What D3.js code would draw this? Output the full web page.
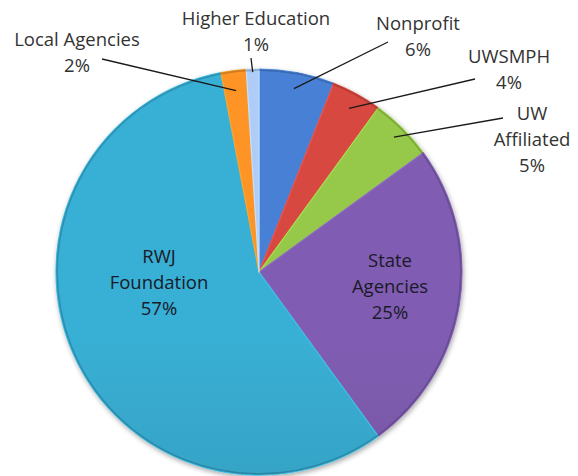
<!DOCTYPE html>
<html>
<head>
<meta charset="utf-8">
<script src="https://cdn.jsdelivr.net/npm/d3@7"></script>
<style>
  body { margin: 0; background: #fff; }
  svg { display: block; }
  text { font-family: "Open Sans", sans-serif; font-size: 18.5px; }
</style>
</head>
<body>
<svg width="578" height="476"></svg>
<script>
// slice data, clockwise from 12 o'clock
const categories = ['Nonprofit', 'UWSMPH', 'UW Affiliated', 'State Agencies', 'RWJ Foundation', 'Local Agencies', 'Higher Education'];
const values = [6, 4, 5, 25, 57, 2, 1];
const labelLines = [['Nonprofit', '6%'], ['UWSMPH', '4%'], ['UW', 'Affiliated', '5%'], ['State', 'Agencies', '25%'], ['RWJ', 'Foundation', '57%'], ['Local Agencies', '2%'], ['Higher Education', '1%']];
const colors = ['#4177c6', '#c8433c', '#8cbb45', '#7757a6', '#35a3c5', '#ef8a22', '#a3bde6'];

const cx = 259, cy = 272, r = 203;
// label layout: x, first baseline, leader start (label side), leader end radius factor
const layout = [
  { x: 418, y: 30, lx: 388, ly: 42, k: 0.92 },
  { x: 509, y: 63, lx: 475, ly: 79, k: 0.92 },
  { x: 532, y: 120, lx: 503, ly: 118, k: 0.94 },
  { x: 390, y: 267 },
  { x: 159, y: 263 },
  { x: 77, y: 46, lx: 102, ly: 59, k: 0.9 },
  { x: 256, y: 25, lx: 251, ly: 58, k: 0.985 }
];

const svg = d3.select('svg');
const defs = svg.append('defs');

const shadow = defs.append('filter').attr('id', 'shadow')
  .attr('x', '-10%').attr('y', '-10%').attr('width', '120%').attr('height', '120%');
shadow.append('feDropShadow')
  .attr('dx', 1).attr('dy', 2).attr('stdDeviation', 2.5)
  .attr('flood-color', '#000').attr('flood-opacity', 0.35);

colors.forEach((c, i) => {
  const g = defs.append('linearGradient').attr('id', 'grad' + i)
    .attr('gradientUnits', 'userSpaceOnUse')
    .attr('x1', 0).attr('y1', cy - r).attr('x2', 0).attr('y2', cy + r);
  g.append('stop').attr('offset', '0%').attr('stop-color', d3.color(c).brighter(0.2));
  g.append('stop').attr('offset', '100%').attr('stop-color', d3.color(c).darker(0.4));
});

const pie = d3.pie().sort(null).value(d => d)(values);
const arc = d3.arc().innerRadius(0).outerRadius(r);

const chart = svg.append('g').attr('transform', `translate(${cx}, ${cy})`);

chart.append('g').attr('filter', 'url(#shadow)')
  .selectAll('path')
  .data(pie)
  .join('path')
  .attr('d', arc)
  .attr('fill', (d, i) => `url(#grad${i})`)
  .attr('stroke', (d, i) => d3.color(colors[i]).brighter(0.5))
  .attr('stroke-width', 1.2)
  .attr('stroke-linejoin', 'round');

// outer rim, a little darker like the bevel in the original
chart.append('circle')
  .attr('r', r - 1)
  .attr('fill', 'none')
  .attr('stroke', 'rgba(0,0,0,0.18)')
  .attr('stroke-width', 2);

// leader lines
pie.forEach((d, i) => {
  const L = layout[i];
  if (L.lx === undefined) return;
  const a = (d.startAngle + d.endAngle) / 2;
  const ex = cx + Math.sin(a) * r * L.k;
  const ey = cy - Math.cos(a) * r * L.k;
  svg.append('line')
    .attr('x1', L.lx).attr('y1', L.ly)
    .attr('x2', ex).attr('y2', ey)
    .attr('stroke', '#1a1a1a').attr('stroke-width', 1.3);
});

// labels
labelLines.forEach((lines, i) => {
  const L = layout[i];
  const t = svg.append('text')
    .attr('text-anchor', 'middle')
    .attr('fill', L.lx === undefined ? '#1a1a28' : '#333');
  lines.forEach((s, j) => {
    t.append('tspan').attr('x', L.x).attr('y', L.y + j * 26).text(s);
  });
});
</script>
</body>
</html>
